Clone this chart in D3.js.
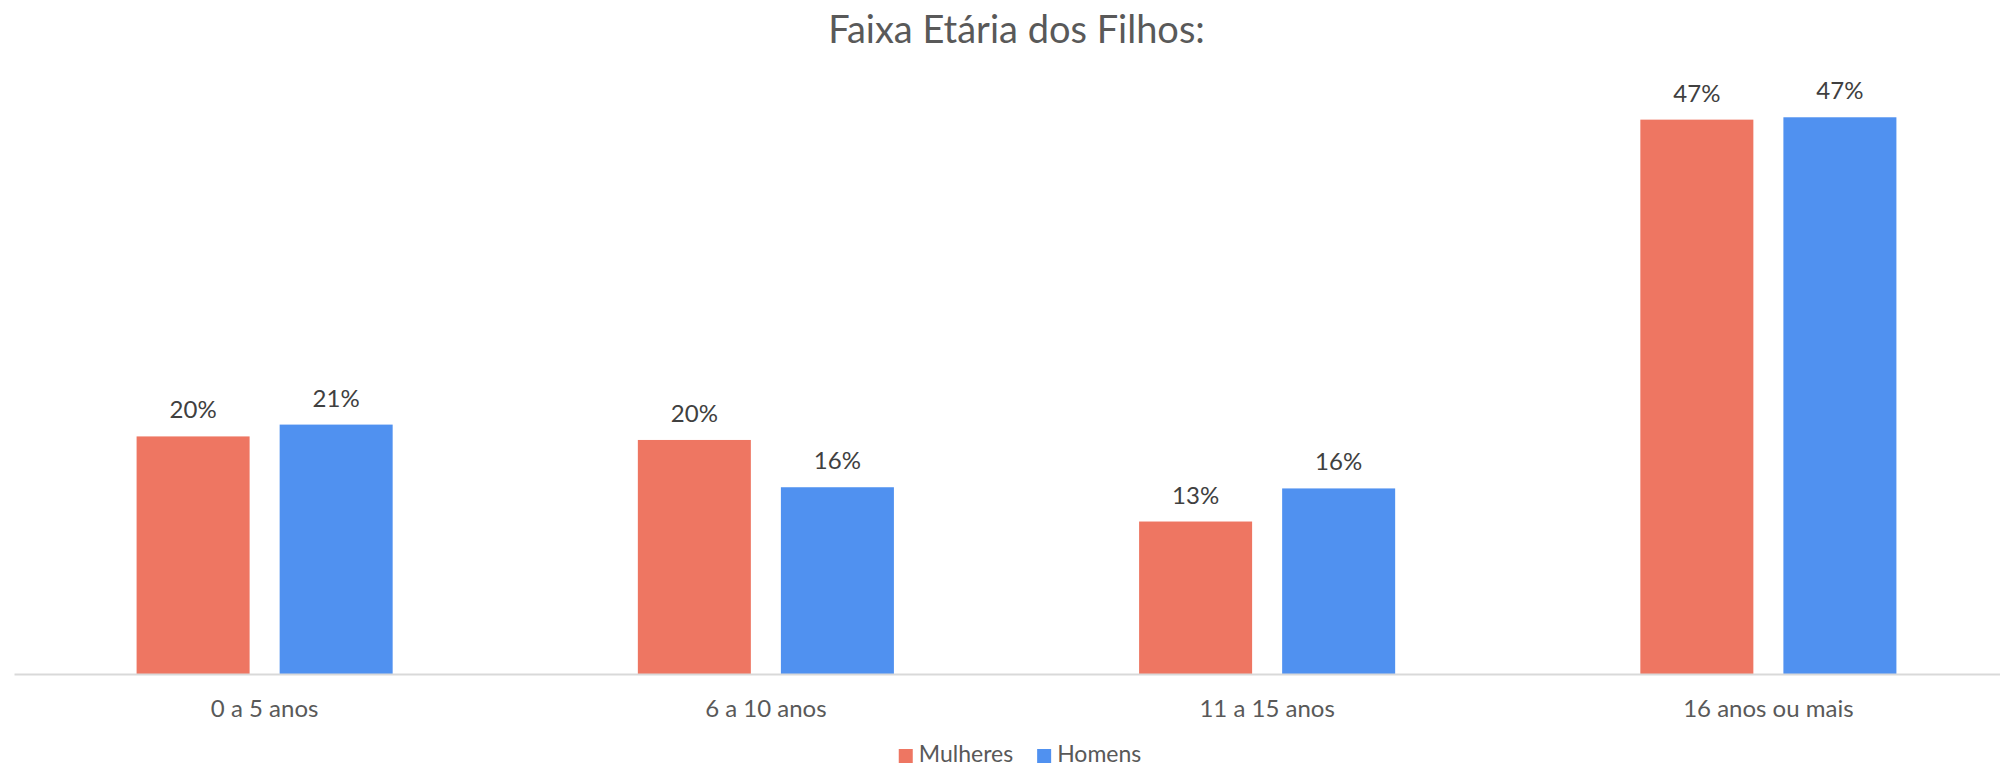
<!DOCTYPE html>
<html>
<head>
<meta charset="utf-8">
<script src="https://cdn.jsdelivr.net/npm/d3@7"></script>
<style>
  body { margin: 0; background: #fff; }
  text { font-family: Lato, "Noto Sans", sans-serif; }
</style>
</head>
<body>
<svg width="2000" height="768"></svg>
<script>
// dados
let categorias = ["0 a 5 anos", "6 a 10 anos", "11 a 15 anos", "16 anos ou mais"];
let series = ["Mulheres", "Homens"];
let mulheres = [0.201, 0.198, 0.129, 0.469];
let homens = [0.211, 0.158, 0.157, 0.471];
let cores = ["#EE7662", "#5091F0"];
let titulo = "Faixa Etária dos Filhos:";

let valores = [mulheres, homens];

let s = d3.select("svg");
let baseY = 674;

let x0 = d3.scaleBand().domain(categorias).range([14, 2019]).padding(0);
let x1 = d3.scaleBand().domain(series).range([0, x0.bandwidth()])
    .paddingInner(0.21).paddingOuter(0.857);
let y = d3.scaleLinear().domain([0, 0.5]).range([baseY, baseY - 591]);
let cor = d3.scaleOrdinal().domain(series).range(cores);
let fmt = d3.format(".0%");

// título
s.append("text")
    .attr("x", (14 + 2019) / 2)
    .attr("y", 43)
    .attr("text-anchor", "middle")
    .attr("fill", "#595959")
    .style("font-size", "38px")
    .text(titulo);

// barras
categorias.forEach((c, i) => {
    let g = s.append("g").attr("transform", "translate(" + x0(c) + ",0)");
    series.forEach((sr, k) => {
        let v = valores[k][i];
        g.append("rect")
            .attr("x", x1(sr))
            .attr("y", y(v))
            .attr("width", x1.bandwidth())
            .attr("height", baseY - y(v))
            .attr("fill", cor(sr));
        g.append("text")
            .attr("x", x1(sr) + x1.bandwidth() / 2)
            .attr("y", y(v) - 18)
            .attr("text-anchor", "middle")
            .attr("fill", "#404040")
            .style("font-size", "24px")
            .text(fmt(v));
    });
});

// eixo x
let eixo = s.append("g")
    .attr("transform", "translate(0," + baseY + ")")
    .call(d3.axisBottom(x0).tickSize(0).tickPadding(26));
eixo.select(".domain").attr("stroke", "#D9D9D9").attr("stroke-width", 2);
eixo.selectAll(".tick text")
    .attr("fill", "#595959")
    .style("font-size", "24px")
    .style("font-family", "Lato, 'Noto Sans', sans-serif");

// legenda
let leg = s.append("g");
let px = 0;
series.forEach((sr, k) => {
    let item = leg.append("g").attr("transform", "translate(" + px + ",0)");
    item.append("rect")
        .attr("x", 0).attr("y", 749)
        .attr("width", 14).attr("height", 14)
        .attr("fill", cor(sr));
    let t = item.append("text")
        .attr("x", 20).attr("y", 762)
        .attr("fill", "#595959")
        .style("font-size", "23px")
        .text(sr);
    px += 20 + t.node().getComputedTextLength() + 24;
});
let larg = px - 24;
leg.attr("transform", "translate(" + (1020 - larg / 2) + ",0)");
</script>
</body>
</html>
